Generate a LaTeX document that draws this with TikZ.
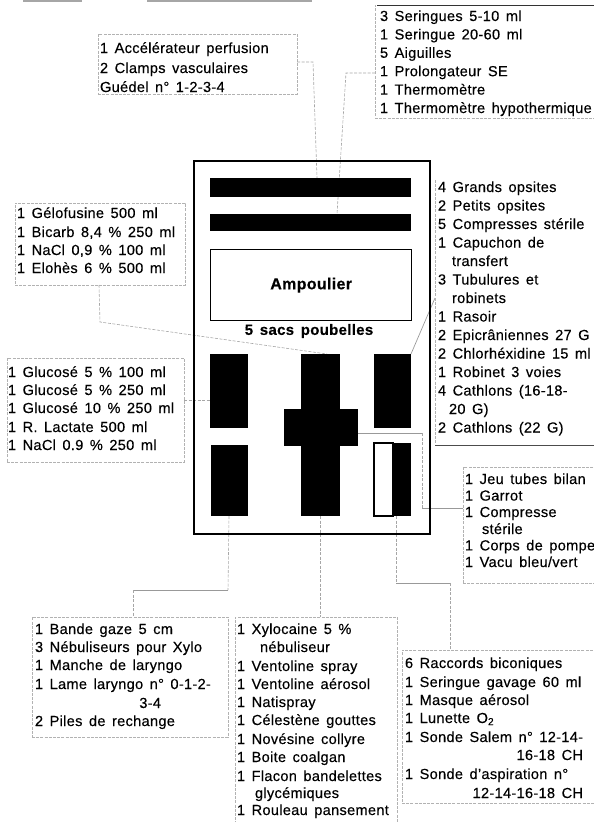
\documentclass[tikz,border=0pt]{standalone}
\usepackage{fontspec}
\setmainfont{Liberation Sans}[WordSpace=1.5,LetterSpace=2,FakeBold=0.3]
\begin{document}
\begin{tikzpicture}[x=1pt,y=-1pt,
  txt/.style={inner sep=0pt, outer sep=0pt, font=\fontsize{14.6}{17}\selectfont, anchor=base west, text=black},
  txtr/.style={txt, anchor=base east},
  lbox/.style={draw=gray!60, line width=0.6pt, dash pattern=on 3pt off 1.2pt, inner sep=0pt, outer sep=0pt, anchor=north west},
  link/.style={draw=gray!70, line width=0.6pt, dash pattern=on 3pt off 1.5pt},
  slink/.style={draw=gray!80, line width=0.7pt},
  blk/.style={fill=black, draw=none, inner sep=0pt, outer sep=0pt, anchor=north west},
  wht/.style={fill=white, draw=black, line width=1.2pt, inner sep=0pt, outer sep=0pt, anchor=north west}
]
\useasboundingbox (0,0) rectangle (594,822);

% top fragments
\draw[gray!70, line width=1.2pt] (23,1) -- (82,1);
\draw[gray!70, line width=1.2pt] (147,1) -- (312,1);

% ---------- connectors (drawn first) ----------
\coordinate (aE) at (297,62);
\coordinate (bW) at (375,73);
\draw[link] (aE) -- (313,62) -- (317,178);
\draw[link] (bW) -- (346,73) -- (337,214);
\coordinate (cS) at (99,285);
\draw[link] (cS) -- (100,322) -- (327,354);
\coordinate (dE) at (184,400);
\draw[link] (dE) -- (210,400);
\coordinate (eW) at (435,298);
\draw[slink] (eW) -- (411,354);
\draw[slink] (358,433) -- (422,433);
\draw[link] (422,433) -- (422,508);
\draw[slink] (422,508) -- (463,508);
\draw[link] (229,516) -- (228,590);
\draw[slink] (228,590) -- (133,590);
\draw[link] (133,590) -- (133,617);
\draw[link] (320,516) -- (320,617);
\draw[link] (396,516) -- (396,583);
\draw[slink] (396,583) -- (450,583);
\draw[link] (450,583) -- (450,650);

% ---------- cabinet ----------
\node[draw=black, line width=2pt, inner sep=0pt, anchor=north west, minimum width=236pt, minimum height=373pt] (cab) at (193,160) {};
\node[blk, minimum width=201pt, minimum height=19pt] (bar1) at (210,178) {};
\node[blk, minimum width=201pt, minimum height=17pt] (bar2) at (210,214) {};
\node[draw=black, line width=1.3pt, inner sep=0pt, anchor=north west, minimum width=201pt, minimum height=71pt] (amp) at (210,249) {};
\node[font=\fontsize{16}{18}\selectfont\bfseries] (ampt) at (amp.center) {Ampoulier};
\node[font=\fontsize{15}{17}\selectfont\bfseries] (sacs) at (309,331) {5 sacs poubelles};
\node[blk, minimum width=38pt, minimum height=74pt] (lt) at (210,354) {};
\node[blk, minimum width=37pt, minimum height=71pt] (lb) at (211,445) {};
\node[blk, minimum width=39pt, minimum height=162pt] (crossv) at (301,354) {};
\node[blk, minimum width=74pt, minimum height=37pt] (crossh) at (284,409) {};
\node[blk, minimum width=37pt, minimum height=74pt] (rt) at (374,354) {};
\node[blk, minimum width=18pt, minimum height=73pt] (rbk) at (393,443) {};
\node[wht, minimum width=19pt, minimum height=73pt] (rbw) at (374,443) {};

% ---------- box A ----------
\node[lbox, minimum width=199pt, minimum height=60pt] (boxA) at (98,34) {};
\node[txt] (a1) at (100,53) {1 Accélérateur perfusion};
\node[txt] (a2) at (100,73) {2 Clamps vasculaires};
\node[txt] (a3) at (100,92) {Guédel n° 1-2-3-4};

% ---------- box B ----------
\node[lbox, minimum width=240pt, minimum height=113pt] (boxB) at (375,5) {};
\draw[black!80, line width=1pt] (377,5) -- (600,5);
\node[txt] (b1) at (380,21) {3 Seringues 5-10 ml};
\node[txt] (b2) at (380,39.4) {1 Seringue 20-60 ml};
\node[txt] (b3) at (380,57.8) {5 Aiguilles};
\node[txt] (b4) at (380,76.2) {1 Prolongateur SE};
\node[txt] (b5) at (380,94.6) {1 Thermomètre};
\node[txt] (b6) at (380,113) {1 Thermomètre hypothermique};

% ---------- box C ----------
\node[lbox, minimum width=170pt, minimum height=82pt] (boxC) at (15,203) {};
\node[txt] (c1) at (17,218) {1 Gélofusine 500 ml};
\node[txt] (c2) at (17,237) {1 Bicarb 8,4 \% 250 ml};
\node[txt] (c3) at (17,255) {1 NaCl 0,9 \% 100 ml};
\node[txt] (c4) at (17,273) {1 Elohès 6 \% 500 ml};

% ---------- box D ----------
\node[lbox, minimum width=177pt, minimum height=104pt] (boxD) at (7,358) {};
\node[txt] (d1) at (8,377) {1 Glucosé 5 \% 100 ml};
\node[txt] (d2) at (8,395) {1 Glucosé 5 \% 250 ml};
\node[txt] (d3) at (8,413) {1 Glucosé 10 \% 250 ml};
\node[txt] (d4) at (8,432) {1 R. Lactate 500 ml};
\node[txt] (d5) at (8,450) {1 NaCl 0.9 \% 250 ml};

% ---------- box E ----------
\draw[draw=gray!60, line width=0.6pt, dash pattern=on 3pt off 1.2pt] (435,180) -- (435,445);
\draw[black!70, line width=0.8pt] (435,445) -- (600,445);
\node[txt] (e1) at (438,192) {4 Grands opsites};
\node[txt] (e2) at (438,210.5) {2 Petits opsites};
\node[txt] (e3) at (438,229) {5 Compresses stérile};
\node[txt] (e4) at (438,247.5) {1 Capuchon de};
\node[txt] (e5) at (452,266) {transfert};
\node[txt] (e6) at (438,284.5) {3 Tubulures et};
\node[txt] (e7) at (452,303) {robinets};
\node[txt] (e8) at (438,321.5) {1 Rasoir};
\node[txt] (e9) at (438,340) {2 Epicrâniennes 27 G};
\node[txt] (e10) at (438,358.5) {2 Chlorhéxidine 15 ml};
\node[txt] (e11) at (438,377) {1 Robinet 3 voies};
\node[txt] (e12) at (438,395.5) {4 Cathlons (16-18-};
\node[txt] (e13) at (449,414) {20 G)};
\node[txt] (e14) at (438,432.5) {2 Cathlons (22 G)};

% ---------- box F ----------
\node[lbox, minimum width=150pt, minimum height=116pt] (boxF) at (463,467) {};
\node[txt] (f1) at (465,484) {1 Jeu tubes bilan};
\node[txt] (f2) at (465,500.6) {1 Garrot};
\node[txt] (f3) at (465,517) {1 Compresse};
\node[txt] (f4) at (482,534) {stérile};
\node[txt] (f5) at (465,550.4) {1 Corps de pompe};
\node[txt] (f6) at (465,567) {1 Vacu bleu/vert};

% ---------- box G ----------
\node[lbox, minimum width=196pt, minimum height=120pt] (boxG) at (32,617) {};
\node[txt] (g1) at (35,634) {1 Bande gaze 5 cm};
\node[txt] (g2) at (35,652) {3 Nébuliseurs pour Xylo};
\node[txt] (g3) at (35,670) {1 Manche de laryngo};
\node[txt] (g4) at (35,689) {1 Lame laryngo n° 0-1-2-};
\node[txtr] (g5) at (161,708) {3-4};
\node[txt] (g6) at (35,726) {2 Piles de rechange};

% ---------- box H ----------
\node[lbox, minimum width=162pt, minimum height=215pt] (boxH) at (235,617) {};
\node[txt] (h1) at (237,634) {1 Xylocaine 5 \%};
\node[txt] (h2) at (260,652) {nébuliseur};
\node[txt] (h3) at (237,671) {1 Ventoline spray};
\node[txt] (h4) at (237,689) {1 Ventoline aérosol};
\node[txt] (h5) at (237,707) {1 Natispray};
\node[txt] (h6) at (237,725) {1 Célestène gouttes};
\node[txt] (h7) at (237,744) {1 Novésine collyre};
\node[txt] (h8) at (237,762) {1 Boite coalgan};
\node[txt] (h9) at (237,781) {1 Flacon bandelettes};
\node[txt] (h10) at (255,798) {glycémiques};
\node[txt] (h11) at (237,815) {1 Rouleau pansement};

% ---------- box I ----------
\node[lbox, minimum width=210pt, minimum height=153pt] (boxI) at (402,650) {};
\node[txt] (i1) at (405,668) {6 Raccords biconiques};
\node[txt] (i2) at (405,687) {1 Seringue gavage 60 ml};
\node[txt] (i3) at (405,705) {1 Masque aérosol};
\node[txt] (i4) at (405,723) {1 Lunette O\textsubscript{2}};
\node[txt] (i5) at (405,742) {1 Sonde Salem n° 12-14-};
\node[txtr] (i6) at (583,760) {16-18 CH};
\node[txt] (i7) at (405,779) {1 Sonde d'aspiration n°};
\node[txtr] (i8) at (583,798) {12-14-16-18 CH};
\end{tikzpicture}
\end{document}
